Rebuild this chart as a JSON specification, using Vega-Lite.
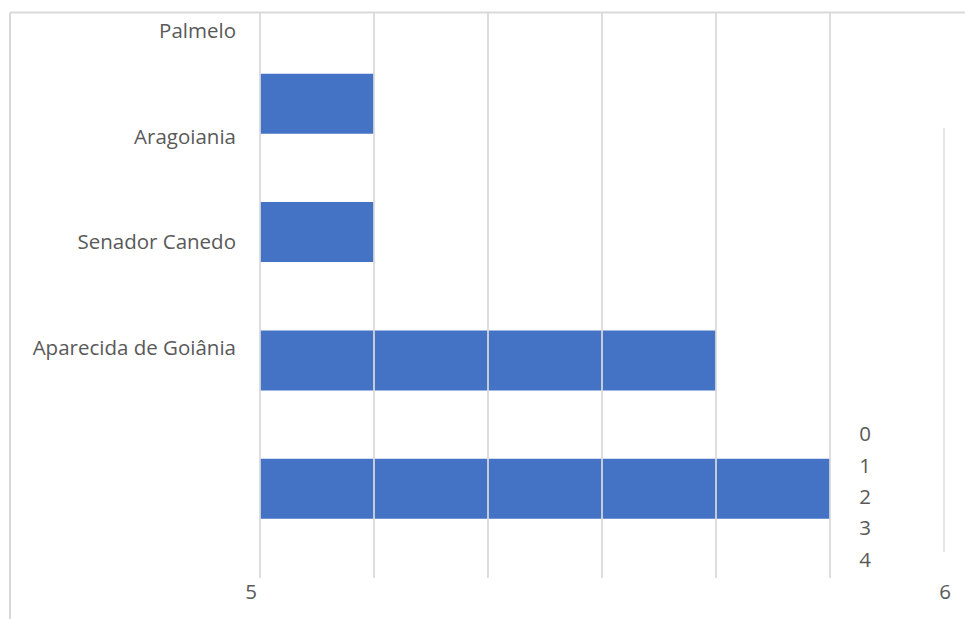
{
  "$schema": "https://vega.github.io/schema/vega-lite/v6.json",
  "width": 965,
  "height": 619,
  "autosize": {"type": "none"},
  "padding": 0,
  "background": "#ffffff",
  "config": {"view": {"stroke": null}},
  "data": {"values": [
    {"city": "Palmelo", "idx": 0, "n": 0},
    {"city": "Aragoiania", "idx": 1, "n": 1},
    {"city": "Senador Canedo", "idx": 2, "n": 1},
    {"city": "Aparecida de Goiânia", "idx": 3, "n": 4},
    {"city": "", "idx": 4, "n": 5}
  ]},
  "resolve": {"scale": {"y": "independent"}},
  "layer": [
    {
      "encoding": {},
      "layer": [
        {
          "data": {"values": [{}]},
          "mark": {"type": "rule", "color": "#d9d9d9", "strokeWidth": 2},
          "encoding": {
            "x": {"datum": -2.193, "scale": {"domain": [-2.2807, 6.18421], "nice": false, "zero": false, "padding": 0}, "axis": null},
            "x2": {"datum": 6.18421},
            "y": {"datum": 0.2884, "scale": {"domain": [0.19096, 5.01559], "reverse": true, "nice": false, "zero": false, "padding": 0}, "axis": null}
          }
        },
        {
          "data": {"values": [{}]},
          "mark": {"type": "rule", "color": "#d9d9d9", "strokeWidth": 2},
          "encoding": {
            "x": {"datum": -2.193},
            "y": {"datum": 0.2884},
            "y2": {"datum": 5.01559}
          }
        },
        {
          "mark": {"type": "bar", "color": "#4472C4", "size": 60},
          "encoding": {
            "x": {"field": "n", "type": "quantitative"},
            "x2": {"datum": 0},
            "y": {"field": "idx", "type": "quantitative"}
          }
        },
        {
          "data": {"values": [{"g": 0}, {"g": 1}, {"g": 2}, {"g": 3}, {"g": 4}, {"g": 5}]},
          "mark": {"type": "rule", "color": "#d9d9d9", "strokeWidth": 1.75},
          "encoding": {
            "x": {"field": "g", "type": "quantitative"},
            "y": {"datum": 0.2884},
            "y2": {"datum": 4.696}
          }
        },
        {
          "data": {"values": [{}]},
          "mark": {"type": "rule", "color": "#dedede", "strokeWidth": 1.5},
          "encoding": {
            "x": {"datum": 6},
            "y": {"datum": 1.1886},
            "y2": {"datum": 4.4934}
          }
        },
        {
          "data": {"values": [{}]},
          "mark": {"type": "text", "text": "5", "font": "Open Sans", "fontSize": 20.5, "color": "#595959", "align": "center", "baseline": "alphabetic"},
          "encoding": {
            "x": {"datum": -0.0789},
            "y": {"datum": 4.8597}
          }
        },
        {
          "data": {"values": [{}]},
          "mark": {"type": "text", "text": "6", "font": "Open Sans", "fontSize": 20.5, "color": "#595959", "align": "center", "baseline": "alphabetic"},
          "encoding": {
            "x": {"datum": 6.0088},
            "y": {"datum": 4.8597}
          }
        }
      ]
    },
    {
      "mark": {"type": "text", "font": "Open Sans", "fontSize": 20.5, "color": "#595959", "align": "right", "baseline": "alphabetic"},
      "encoding": {
        "x": {"datum": -0.2105},
        "y": {"field": "idx", "type": "quantitative", "scale": {"domain": [-0.35985, 5.50189], "reverse": true, "nice": false, "zero": false, "padding": 0}, "axis": null},
        "text": {"field": "city"}
      }
    },
    {
      "data": {"values": [{"v": 0}, {"v": 1}, {"v": 2}, {"v": 3}, {"v": 4}]},
      "mark": {"type": "text", "font": "Open Sans", "fontSize": 20.5, "color": "#595959", "align": "center", "baseline": "alphabetic"},
      "encoding": {
        "x": {"datum": 5.307},
        "y": {"field": "v", "type": "quantitative", "scale": {"domain": [-14.105, 5.671], "reverse": true, "nice": false, "zero": false, "padding": 0}, "axis": null},
        "text": {"field": "v", "type": "quantitative"}
      }
    }
  ]
}
